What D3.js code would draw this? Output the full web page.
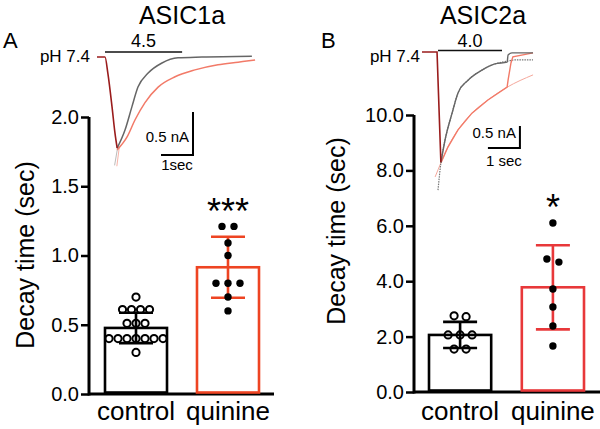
<!DOCTYPE html>
<html>
<head>
<meta charset="utf-8">
<script src="https://cdn.jsdelivr.net/npm/d3@7"></script>
<style>
  html, body { margin: 0; padding: 0; background: #fff; }
  svg { display: block; font-family: "Liberation Sans", Arial, Helvetica, sans-serif; }
</style>
</head>
<body>
<svg id="chart" width="600" height="429"></svg>
<script>
// ---------------- DATA ----------------
const categories = ["control", "quinine"];

// Panel A (ASIC1a) decay time (sec)
const meansA = [0.477, 0.915];
const sdA = [0.11, 0.22];
const pointsA_control = [0.70, 0.61, 0.61, 0.61, 0.61, 0.51, 0.51, 0.51, 0.40, 0.40, 0.40, 0.40, 0.40, 0.40, 0.40, 0.30];
const pointsA_quinine = [1.21, 1.21, 1.09, 1.00, 0.80, 0.80, 0.80, 0.70, 0.60];
const ticksA = [0, 0.5, 1.0, 1.5, 2.0];

// Panel B (ASIC2a) decay time (sec)
const meansB = [2.06, 3.78];
const sdB = [0.47, 1.52];
const pointsB_control = [2.72, 2.75, 2.06, 2.06, 2.06, 1.55, 1.55];
const pointsB_quinine = [6.10, 4.80, 4.69, 3.72, 3.07, 2.38, 1.66];
const ticksB = [0, 2, 4, 6, 8, 10];

// Example current traces: [time (s), current (nA)]
const traceA_onset = [[0, 0], [0.25, 0], [0.34, -0.19], [0.47, -0.58], [0.56, -0.88], [0.63, -1.06]];
const traceA_control = [[0.63, -1.06], [0.875, -0.85], [1.09, -0.58], [1.28, -0.35], [1.59, -0.19], [2.03, -0.07], [2.53, -0.01], [3.28, 0], [4.84, 0.01]];
const traceA_quinine = [[0.63, -1.08], [0.94, -0.93], [1.19, -0.73], [1.5, -0.53], [1.91, -0.35], [2.44, -0.23], [3.06, -0.15], [3.78, -0.09], [4.41, -0.06], [4.94, -0.035]];
const fitA_control = [[0.55, -1.26], [0.66, -1.02]];
const fitA_quinine = [[0.62, -1.27], [0.70, -1.04]];
const stimA = [0.25, 2.66];

const traceB_onset = [[0, 0], [0.47, 0], [0.59, -2.5]];
const traceB_control = [[0.59, -2.52], [0.72, -2.0], [0.94, -1.39], [1.125, -0.93], [1.44, -0.64], [1.875, -0.41], [2.28, -0.27], [2.66, -0.23], [2.69, -0.07], [2.81, -0.02], [3.47, -0.02]];
const fitB_control = [[0.50, -3.14], [0.59, -2.52], [0.72, -2.0], [0.94, -1.39], [1.125, -0.93], [1.44, -0.64], [1.875, -0.41], [2.28, -0.27], [2.66, -0.21], [2.91, -0.18], [3.47, -0.18]];
const traceB_quinine = [[0.59, -2.52], [0.81, -2.16], [1.125, -1.77], [1.56, -1.39], [2.06, -1.09], [2.66, -0.80], [2.69, -0.64], [2.78, -0.25], [2.84, -0.11], [3.47, -0.02]];
const fitB_quinine = [[0.41, -2.84], [0.59, -2.52], [0.81, -2.16], [1.125, -1.77], [1.56, -1.39], [2.06, -1.09], [2.66, -0.80], [3.47, -0.52]];
const stimB = [0.5, 2.5];

// ---------------- DRAW ----------------
const svg = d3.select("#chart");
const FONT = '"Liberation Sans", Arial, Helvetica, sans-serif';

function swarm(values, y, cx, spacing) {
  const sorted = values.slice().sort((a, b) => b - a);
  const rows = [];
  sorted.forEach(v => {
    const last = rows[rows.length - 1];
    if (last && Math.abs(y(last[0]) - y(v)) < 6) last.push(v); else rows.push([v]);
  });
  const out = [];
  rows.forEach(r => r.forEach((v, i) => out.push({ v, x: cx + (i - (r.length - 1) / 2) * spacing })));
  return out;
}

function panel(cfg) {
  const g = svg.append("g");
  const y = d3.scaleLinear().domain(cfg.domain).range(cfg.yRange);
  const x = d3.scaleBand().domain(categories).range(cfg.barRange).paddingInner(cfg.pad).paddingOuter(0);

  // y axis
  const ax = g.append("g").attr("transform", `translate(${cfg.axisX},0)`)
    .call(d3.axisLeft(y).tickValues(cfg.ticks).tickFormat(d3.format(".1f")).tickSize(8).tickSizeOuter(0).tickPadding(2));
  ax.select(".domain").attr("stroke", "#000").attr("stroke-width", 3).attr("d", `M0,${cfg.yRange[0] + 1.5}V${cfg.yRange[1]}`);
  ax.selectAll(".tick line").attr("stroke", "#000").attr("stroke-width", 2.5);
  ax.selectAll(".tick text").attr("font-size", 20).attr("font-family", FONT).attr("fill", "#000");

  // x axis line
  g.append("line").attr("x1", cfg.axisX).attr("x2", cfg.xEnd)
    .attr("y1", y(0)).attr("y2", y(0)).attr("stroke", "#000").attr("stroke-width", 3);

  // y title
  g.append("text").attr("transform", `translate(${cfg.titleX},${cfg.titleY}) rotate(-90)`)
    .attr("text-anchor", "middle").attr("font-size", 25).attr("font-family", FONT)
    .text("Decay time (sec)");

  const colors = ["#000", cfg.red];
  // bars
  categories.forEach((c, i) => {
    g.append("rect").attr("x", x(c)).attr("width", x.bandwidth())
      .attr("y", y(cfg.means[i])).attr("height", y(0) - y(cfg.means[i]) - 1.5)
      .attr("fill", "none").attr("stroke", colors[i]).attr("stroke-width", 2.6);
  });
  // error bars
  categories.forEach((c, i) => {
    const cx = x(c) + x.bandwidth() / 2;
    const lo = y(cfg.means[i] - cfg.sd[i]), hi = y(cfg.means[i] + cfg.sd[i]);
    g.append("line").attr("x1", cx).attr("x2", cx).attr("y1", lo).attr("y2", hi).attr("stroke", colors[i]).attr("stroke-width", 2.6);
    [lo, hi].forEach(yy => g.append("line").attr("x1", cx - 17).attr("x2", cx + 17).attr("y1", yy).attr("y2", yy).attr("stroke", colors[i]).attr("stroke-width", 2.6));
  });
  // points
  const cxC = x("control") + x.bandwidth() / 2;
  const cxQ = x("quinine") + x.bandwidth() / 2;
  g.selectAll(".pc").data(swarm(cfg.ptsC, y, cxC, cfg.spacingC)).enter().append("circle")
    .attr("cx", d => d.x).attr("cy", d => y(d.v)).attr("r", 3.6)
    .attr("fill", "none").attr("stroke", "#000").attr("stroke-width", 2);
  g.selectAll(".pq").data(swarm(cfg.ptsQ, y, cxQ, 12)).enter().append("circle")
    .attr("cx", d => d.x).attr("cy", d => y(d.v)).attr("r", 3.7).attr("fill", "#000");

  // category labels
  categories.forEach(c => g.append("text").attr("x", x(c) + x.bandwidth() / 2).attr("y", 420)
    .attr("text-anchor", "middle").attr("font-size", 26).attr("font-family", FONT).text(c));

  // significance
  g.append("text").attr("x", cxQ).attr("y", cfg.starY).attr("text-anchor", "middle")
    .attr("font-size", 36).attr("font-family", FONT).text(cfg.stars);

  // titles
  g.append("text").attr("x", cfg.headX).attr("y", 24).attr("text-anchor", "middle")
    .attr("font-size", 25).attr("font-family", FONT).text(cfg.head);
  g.append("text").attr("x", cfg.letterX).attr("y", 48).attr("font-size", 22).attr("font-family", FONT).text(cfg.letter);

  // traces
  const tx = d3.scaleLinear().domain([0, 1]).range([cfg.t0x, cfg.t0x + 32]);
  const ty = d3.scaleLinear().domain([0, -0.5]).range([cfg.t0y, cfg.t0y + cfg.halfnA]);
  const line = d3.line().x(d => tx(d[0])).y(d => ty(d[1])).curve(d3.curveMonotoneX);
  const lineL = d3.line().x(d => tx(d[0])).y(d => ty(d[1]));
  cfg.traces.forEach(tr => {
    g.append("path").attr("d", (tr.linear ? lineL : line)(tr.data)).attr("fill", "none")
      .attr("stroke", tr.color).attr("stroke-width", tr.w).attr("stroke-dasharray", tr.dash || null);
  });
  // stimulus bar
  g.append("line").attr("x1", tx(cfg.stim[0])).attr("x2", tx(cfg.stim[1]))
    .attr("y1", cfg.t0y - cfg.stimOff).attr("y2", cfg.t0y - cfg.stimOff).attr("stroke", "#111").attr("stroke-width", 1.6);
  g.append("text").attr("x", (tx(cfg.stim[0]) + tx(cfg.stim[1])) / 2).attr("y", 47).attr("text-anchor", "middle")
    .attr("font-size", 18).attr("font-family", FONT).text(cfg.stimLabel);
  g.append("text").attr("x", cfg.phX).attr("y", 62).attr("text-anchor", "end")
    .attr("font-size", 17).attr("font-family", FONT).text("pH 7.4");

  // scale bar
  const sbx = tx(cfg.sb[0]);
  g.append("path").attr("d", `M${tx(cfg.sb[0] - 1)},${ty(cfg.sb[2])}H${sbx}V${ty(cfg.sb[1])}`)
    .attr("fill", "none").attr("stroke", "#000").attr("stroke-width", 2);
  g.append("text").attr("x", sbx - 4).attr("y", cfg.nAy).attr("text-anchor", "end")
    .attr("font-size", 15).attr("font-family", FONT).text("0.5 nA");
  g.append("text").attr("x", tx(cfg.sb[0] - 0.5)).attr("y", cfg.secY).attr("text-anchor", "middle")
    .attr("font-size", 15).attr("font-family", FONT).text(cfg.secLabel);
}

panel({
  domain: [0, 2], yRange: [394, 117], ticks: ticksA, barRange: [105, 259], pad: 0.326,
  axisX: 89, xEnd: 274, titleX: 34, titleY: 255, means: meansA, sd: sdA,
  ptsC: pointsA_control, ptsQ: pointsA_quinine, spacingC: 9, red: "#ee4422",
  starY: 224, stars: "***", headX: 182, head: "ASIC1a", letterX: 3, letter: "A",
  t0x: 97, t0y: 57, halfnA: 43,
  traces: [
    { data: fitA_control, color: "#bbb", w: 1, linear: true },
    { data: fitA_quinine, color: "#f7b3a8", w: 1, linear: true },
    { data: traceA_quinine, color: "#f27a68", w: 1.5 },
    { data: traceA_control, color: "#666", w: 1.5 },
    { data: traceA_onset, color: "#9a1c1c", w: 1.6 }
  ],
  stim: stimA, stimOff: 5, stimLabel: "4.5", phX: 90,
  sb: [3.0, -0.64, -1.14], nAy: 142, secY: 170, secLabel: "1sec"
});

panel({
  domain: [0, 10], yRange: [392, 115], ticks: ticksB, barRange: [429, 584], pad: 0.33,
  axisX: 414, xEnd: 600, titleX: 345, titleY: 231, means: meansB, sd: sdB,
  ptsC: pointsB_control, ptsQ: pointsB_quinine, spacingC: 12, red: "#e8383a",
  starY: 220, stars: "*", headX: 483, head: "ASIC2a", letterX: 321, letter: "B",
  t0x: 422, t0y: 52, halfnA: 22,
  traces: [
    { data: fitB_quinine, color: "#f5a89c", w: 1 },
    { data: fitB_control, color: "#777", w: 1.2, dash: "1.5,1" },
    { data: traceB_quinine, color: "#f27a68", w: 1.4, linear: true },
    { data: traceB_control, color: "#666", w: 1.4 },
    { data: traceB_onset, color: "#9a1c1c", w: 1.6, linear: true }
  ],
  stim: stimB, stimOff: 1.5, stimLabel: "4.0", phX: 420,
  sb: [3.06, -1.68, -2.18], nAy: 138, secY: 166, secLabel: "1 sec"
});
</script>
</body>
</html>
